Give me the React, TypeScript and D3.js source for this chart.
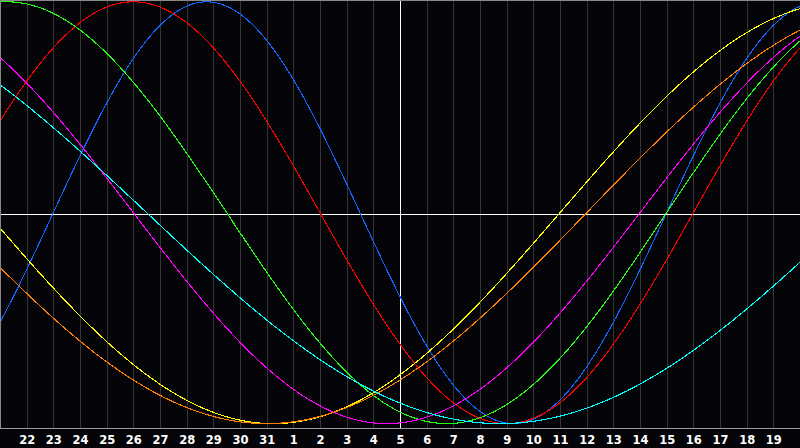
import React, { useEffect } from "react";
import * as d3 from "d3";

// Biorhythm cycles (days) and the days lived at the first (left-edge) day of the chart
const cycleNames = ["Physical", "Emotional", "Intellectual", "Intuitive", "Aesthetic", "Awareness", "Spiritual"];
const cyclePeriods = [23, 28, 33, 38, 43, 48, 53];
const cycleColors = ["#1464ff", "#ff0000", "#22ff10", "#ff00ff", "#ffff00", "#ff8000", "#00ffff"];
const daysLivedAtStart = 28058;
const totalDays = 30;
const todayIndex = 15;
const dayLabels = [
  "22", "23", "24", "25", "26", "27", "28", "29", "30", "31",
  "1", "2", "3", "4", "5", "6", "7", "8", "9", "10",
  "11", "12", "13", "14", "15", "16", "17", "18", "19",
];

const W = 800;
const H = 448;
const plotBottom = 428;

export default function App() {
  useEffect(() => {
    document.body.style.margin = "0";
    document.body.style.background = "#050408";
  }, []);

  const x = d3.scaleLinear().domain([0, totalDays]).range([0, W]);
  const y = d3.scaleLinear().domain([-1, 1]).range([423.6, 1.8]);

  const samples = d3.range(0, totalDays + 0.0001, totalDays / 800);

  const paths = cyclePeriods.map((p) =>
    d3
      .line<number>()
      .x((d) => x(d))
      .y((d) => y(Math.sin((2 * Math.PI * (daysLivedAtStart + d)) / p)))(samples)
  );

  const zeroY = 214.5;

  return (
    <svg width={W} height={H} style={{ position: "absolute", left: 0, top: 0, display: "block", background: "#050408" }}>
      <rect x={0} y={0} width={W} height={H} fill="#050408" />
      {dayLabels.map((_, i) => (
        <line
          key={"g" + i}
          x1={Math.round(x(i + 1)) + 0.5}
          x2={Math.round(x(i + 1)) + 0.5}
          y1={0}
          y2={plotBottom}
          stroke="#343434"
          strokeWidth={1}
          shapeRendering="crispEdges"
        />
      ))}
      <line x1={0} x2={W} y1={zeroY} y2={zeroY} stroke="#ffffff" strokeWidth={1} shapeRendering="crispEdges" />
      <line
        x1={x(todayIndex) + 0.5}
        x2={x(todayIndex) + 0.5}
        y1={0}
        y2={plotBottom}
        stroke="#ffffff"
        strokeWidth={1}
        shapeRendering="crispEdges"
      />
      {paths.map((d, i) => (
        <path
          key={cycleNames[i]}
          d={d || ""}
          fill="none"
          stroke={cycleColors[i]}
          strokeWidth={1.1}
          shapeRendering="crispEdges"
        />
      ))}
      <line x1={0} x2={W} y1={0.5} y2={0.5} stroke="#8a8a8a" strokeWidth={1} shapeRendering="crispEdges" />
      <line x1={0.5} x2={0.5} y1={0} y2={plotBottom} stroke="#8a8a8a" strokeWidth={1} shapeRendering="crispEdges" />
      <line x1={0} x2={W} y1={plotBottom + 0.5} y2={plotBottom + 0.5} stroke="#9a9a9a" strokeWidth={1} shapeRendering="crispEdges" />
      {dayLabels.map((lab, i) => (
        <text
          key={"t" + i}
          x={x(i + 1) + 0.5}
          y={443.5}
          fill="#ffffff"
          fontFamily="'DejaVu Sans', sans-serif"
          fontWeight="bold"
          fontSize={11.5}
          textAnchor="middle"
        >
          {lab}
        </text>
      ))}
    </svg>
  );
}
